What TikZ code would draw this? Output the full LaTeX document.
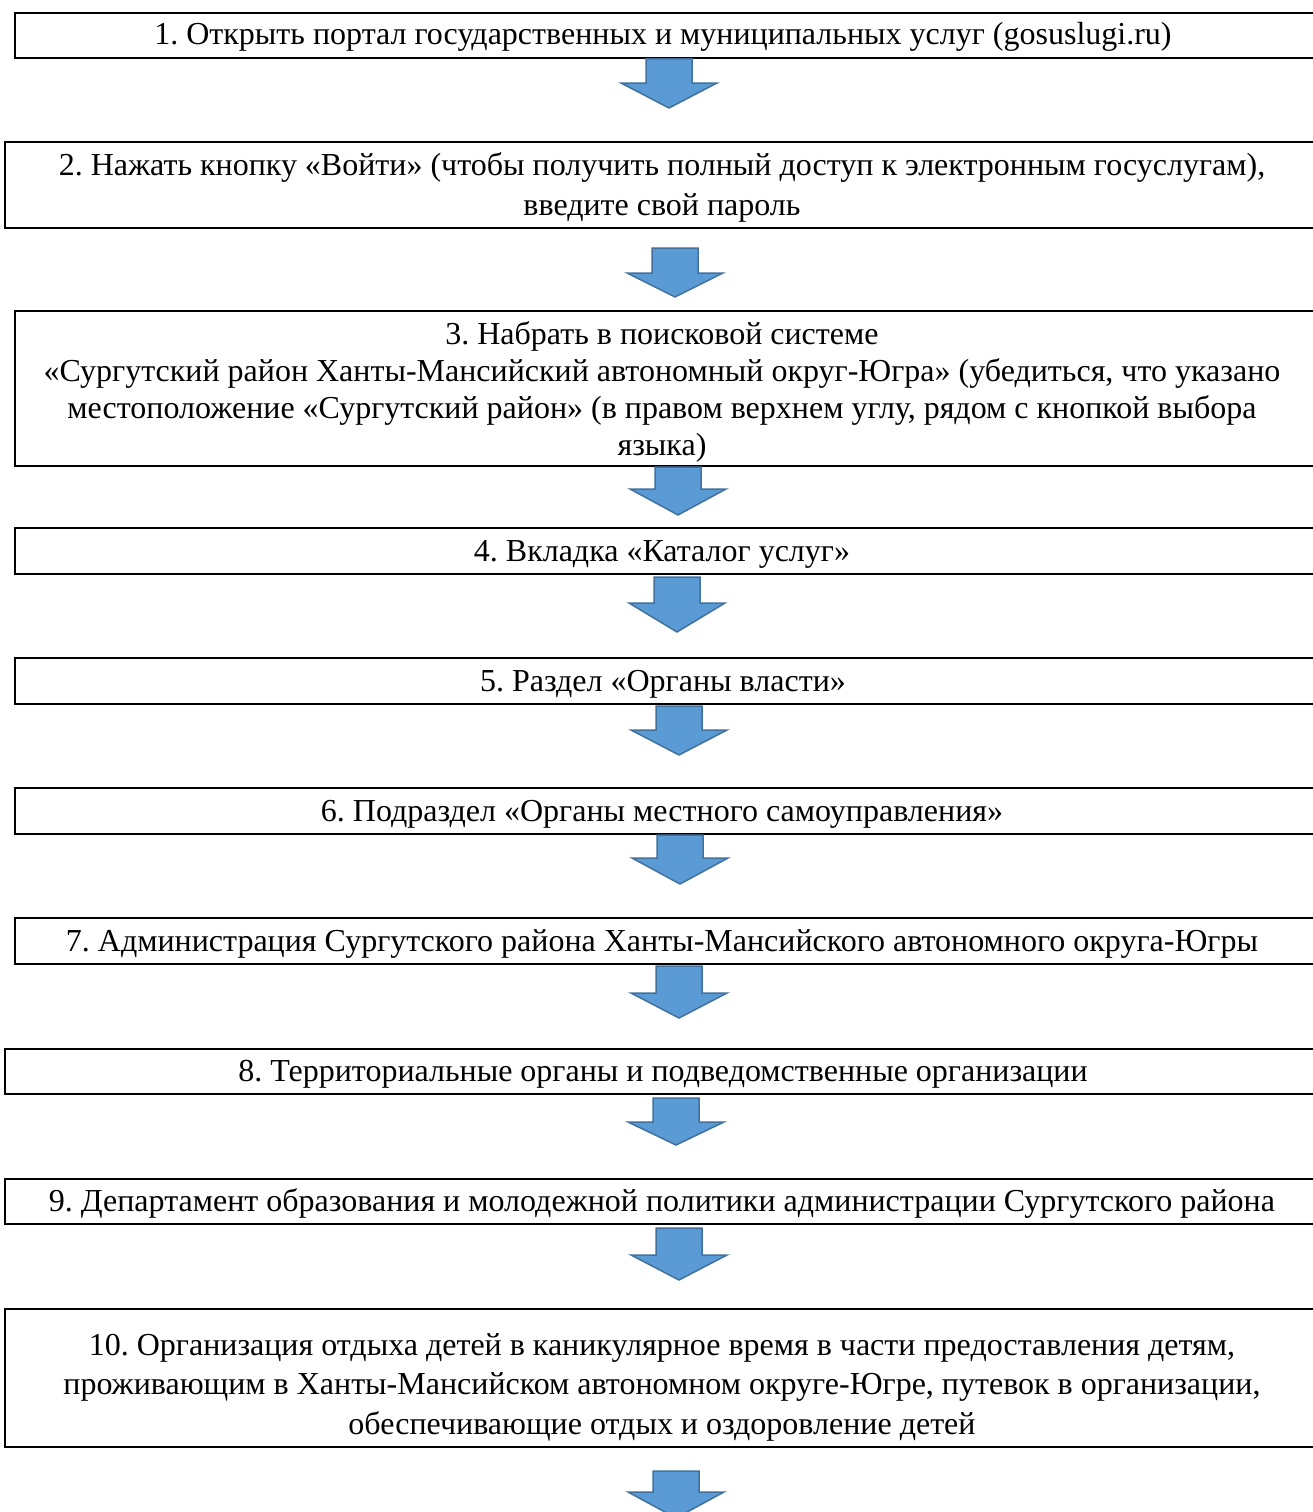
\documentclass[tikz,border=0pt]{standalone}
\usepackage{fontspec}
\setmainfont{Liberation Serif}
\usetikzlibrary{fit}
\definecolor{arrfill}{RGB}{91,155,213}
\definecolor{arrdraw}{RGB}{65,113,156}
\tikzset{
  box/.style={draw=black, line width=2pt, inner sep=0pt},
  txt/.style={font=\fontsize{32}{40}\selectfont, align=center, inner sep=0pt},
  blockarr/.style={fill=arrfill, draw=arrdraw, line width=1.5pt, line join=miter}
}
\newcommand\blockarrow[4]{%
  \draw[blockarr] ({#1-23},{#2}) -- ({#1+23},{#2}) -- ({#1+23},{#3}) -- ({#1+48},{#3})
    -- ({#1},{#4}) -- ({#1-48},{#3}) -- ({#1-23},{#3}) -- cycle;}
\frenchspacing
\begin{document}
\begin{tikzpicture}[x=1pt,y=-1pt]
\useasboundingbox (0,0) rectangle (1313,1512);
\clip (0,0) rectangle (1313,1512);
\fill[white] (0,0) rectangle (1313,1512);
% boxes
\node[box, fit={(15,13) (1330,58)}] (b1) {};
\node[box, fit={(5,142) (1330,228)}] (b2) {};
\node[box, fit={(15,311) (1330,466)}] (b3) {};
\node[box, fit={(15,528) (1330,574)}] (b4) {};
\node[box, fit={(15,658) (1330,704)}] (b5) {};
\node[box, fit={(15,788) (1330,834)}] (b6) {};
\node[box, fit={(15,918) (1330,964)}] (b7) {};
\node[box, fit={(5,1049) (1330,1094)}] (b8) {};
\node[box, fit={(5,1179) (1330,1224)}] (b9) {};
\node[box, fit={(5,1309) (1330,1447)}] (b10) {};
% texts
\node[txt, anchor=base] (t1) at (663,45) {1. Открыть портал государственных и муниципальных услуг (gosuslugi.ru)};
\node[txt] (t2) at (662,187) {2. Нажать кнопку «Войти» (чтобы получить полный доступ к электронным госуслугам),\\введите свой пароль};
\node[txt, font=\fontsize{32}{37}\selectfont] (t3) at (662,392) {3. Набрать в поисковой системе\\«Сургутский район Ханты-Мансийский автономный округ-Югра» (убедиться, что указано\\местоположение «Сургутский район» (в правом верхнем углу, рядом с кнопкой выбора\\языка)};
\node[txt, anchor=base] (t4) at (662,561) {4. Вкладка «Каталог услуг»};
\node[txt, anchor=base] (t5) at (663,691) {5. Раздел «Органы власти»};
\node[txt, anchor=base] (t6) at (662,821) {6. Подраздел «Органы местного самоуправления»};
\node[txt, anchor=base] (t7) at (662,951) {7. Администрация Сургутского района Ханты-Мансийского автономного округа-Югры};
\node[txt, anchor=base] (t8) at (663,1081) {8. Территориальные органы и подведомственные организации};
\node[txt, anchor=base] (t9) at (662,1211) {9. Департамент образования и молодежной политики администрации Сургутского района};
\node[txt, font=\fontsize{32}{39.5}\selectfont] (t10) at (662,1387) {10. Организация отдыха детей в каникулярное время в части предоставления детям,\\проживающим в Ханты-Мансийском автономном округе-Югре, путевок в организации,\\обеспечивающие отдых и оздоровление детей};
% arrows
\blockarrow{669}{59}{83}{108}
\blockarrow{675}{248}{273}{297}
\blockarrow{678}{467}{489}{515}
\blockarrow{677}{577}{603}{632}
\blockarrow{679}{706}{730}{755}
\blockarrow{680}{835}{858}{884}
\blockarrow{679}{966}{993}{1018}
\blockarrow{676}{1098}{1122}{1145}
\blockarrow{679}{1228}{1255}{1280}
\blockarrow{676}{1471}{1492}{1518}
\end{tikzpicture}
\end{document}
